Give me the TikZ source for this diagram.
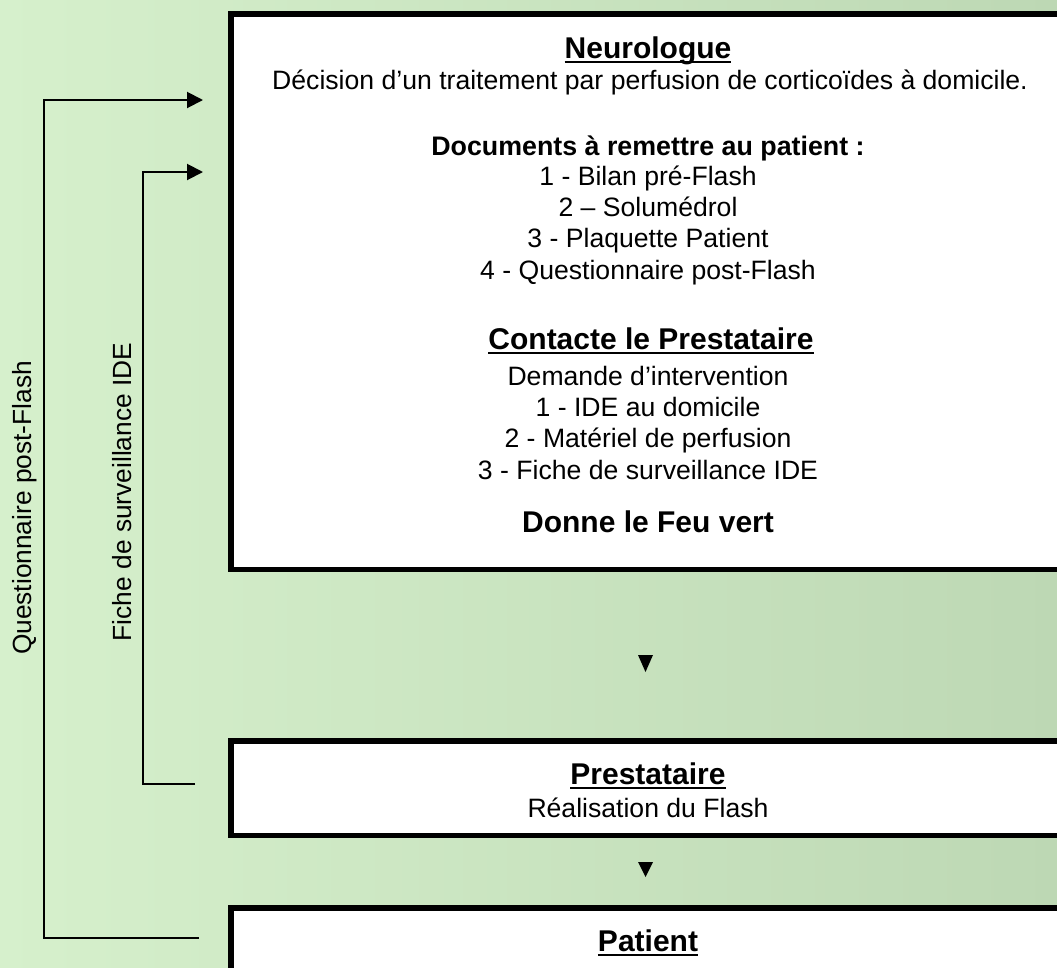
\documentclass[tikz,border=0pt]{standalone}
\usepackage{fontspec}
\setmainfont{Liberation Sans}
\usetikzlibrary{arrows.meta}
\newcommand\myul[1]{\setbox0\hbox{#1}\rlap{\rule[-5pt]{\wd0}{2.4pt}}\box0}
\definecolor{bgleft}{RGB}{214,240,204}
\definecolor{bgright}{RGB}{189,216,180}
\tikzset{
  box/.style={draw=black, line width=5.5pt, fill=white, rectangle, inner sep=0pt, anchor=north west, minimum width=900pt},
  body/.style={anchor=base, inner sep=0pt, font=\fontsize{26.6}{31}\selectfont},
  head/.style={anchor=base, inner sep=0pt, font=\fontsize{30}{36}\selectfont\bfseries},
  sub/.style={anchor=base, inner sep=0pt, font=\fontsize{26.8}{31}\selectfont\bfseries},
  conn/.style={line width=2pt, line join=miter},
  side/.style={rotate=90, inner sep=0pt, font=\fontsize{26.3}{31}\selectfont},
  tri/.style={fill=black},
  tip/.style={-{Triangle[length=16pt,width=16pt]}}
}
\begin{document}
\begin{tikzpicture}[x=1pt,y=-1pt]
\useasboundingbox (0,0) rectangle (1057,967);
\clip (0,0) rectangle (1057,967);
\shade[left color=bgleft, right color=bgright] (0,0) rectangle (1057,967);

% boxes
\node[box, minimum height=555.5pt] (neuro) at (228,11) {};
\node[box, minimum height=94.5pt] (prest) at (228,738) {};
\node[box, minimum height=200pt] (pat) at (228,905) {};

% Neurologue box text
\node[head] (t1) at (648,58) {\myul{Neurologue}};
\node[body] (t2) at (650,89) {Décision d’un traitement par perfusion de corticoïdes à domicile.};
\node[sub] (t3) at (648,155) {Documents à remettre au patient :};
\node[body] (t4) at (648,185) {1 - Bilan pré-Flash};
\node[body] (t5) at (648,216) {2 – Solumédrol};
\node[body] (t6) at (648,247) {3 - Plaquette Patient};
\node[body] (t7) at (648,279) {4 - Questionnaire post-Flash};
\node[head] (t8) at (651,349) {\myul{Contacte le Prestataire}};
\node[body] (t9) at (648,385) {Demande d’intervention};
\node[body] (t10) at (648,416) {1 - IDE au domicile};
\node[body] (t11) at (648,447) {2 - Matériel de perfusion};
\node[body] (t12) at (648,479) {3 - Fiche de surveillance IDE};
\node[head] (t13) at (648,532) {Donne le Feu vert};

% Prestataire box text
\node[head] (p1) at (648,784) {\myul{Prestataire}};
\node[body] (p2) at (648,817) {Réalisation du Flash};

% Patient box text
\node[head] (q1) at (648,951) {\myul{Patient}};

% down triangles
\fill[tri] (638,655) -- (653,655) -- (645.5,672) -- cycle;
\fill[tri] (638,862) -- (653,862) -- (645.5,877) -- cycle;

% feedback connectors
\coordinate (qs) at (199,938);
\coordinate (qc) at (44,100);
\coordinate (qe) at (203,100);
\draw[conn, tip] (qs) -| (qc) -- (qe);
\coordinate (fs) at (195,784);
\coordinate (fc) at (143,172);
\coordinate (fe) at (203,172);
\draw[conn, tip] (fs) -| (fc) -- (fe);

% side labels
\node[side] (lq) at (25,508) {Questionnaire post-Flash};
\node[side] (lf) at (122,492) {Fiche de surveillance IDE};
\end{tikzpicture}
\end{document}
